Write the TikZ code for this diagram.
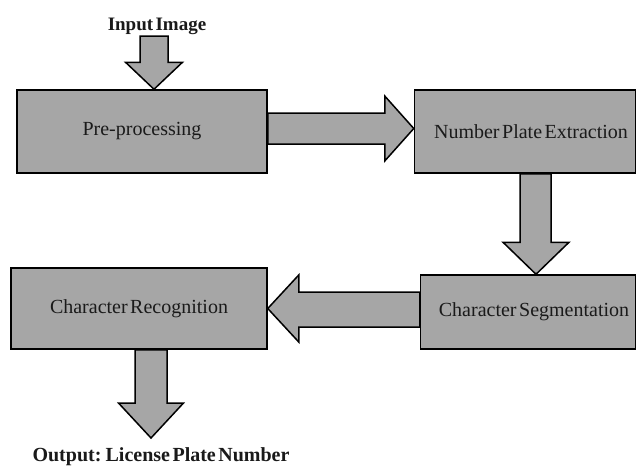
\documentclass[tikz,border=0pt]{standalone}
\usepackage{fontspec}
\setmainfont[WordSpace=0.5]{Liberation Serif}
\usetikzlibrary{calc}
\definecolor{boxgray}{HTML}{A6A6A6}
\definecolor{inkc}{HTML}{1A1A1A}
\tikzset{
  blk/.style={draw=black, line width=1.5pt, fill=boxgray, line join=miter},
  stage/.style={blk, inner sep=0pt, font=\fontsize{20}{24}\selectfont, text=inkc},
  caption/.style={inner sep=0pt, anchor=base, text=inkc, font=\bfseries\fontsize{#1}{24}\selectfont}
}
% down block arrow: #1 start (shaft top centre), #2 tip, #3 half shaft, #4 half head, #5 head length
\newcommand\blkdown[5]{\draw[blk] let \p1=#1, \p2=#2 in
  (\x1-#3pt,\y1) -- (\x1-#3pt,\y2+#5pt) -- (\x2-#4pt,\y2+#5pt) -- (\x2,\y2)
  -- (\x2+#4pt,\y2+#5pt) -- (\x1+#3pt,\y2+#5pt) -- (\x1+#3pt,\y1) -- cycle;}
% right block arrow
\newcommand\blkright[5]{\draw[blk] let \p1=#1, \p2=#2 in
  (\x1,\y1+#3pt) -- (\x2-#5pt,\y1+#3pt) -- (\x2-#5pt,\y2+#4pt) -- (\x2,\y2)
  -- (\x2-#5pt,\y2-#4pt) -- (\x2-#5pt,\y1-#3pt) -- (\x1,\y1-#3pt) -- cycle;}
% left block arrow
\newcommand\blkleft[5]{\draw[blk] let \p1=#1, \p2=#2 in
  (\x1,\y1+#3pt) -- (\x2+#5pt,\y1+#3pt) -- (\x2+#5pt,\y2+#4pt) -- (\x2,\y2)
  -- (\x2+#5pt,\y2-#4pt) -- (\x2+#5pt,\y1-#3pt) -- (\x1,\y1-#3pt) -- cycle;}
\begin{document}
\begin{tikzpicture}[x=1pt,y=-1pt]
\useasboundingbox (0,0) rectangle (637,466);
\fill[white] (0,0) rectangle (637,466);

\node[stage, minimum width=250, minimum height=83] (pre) at (142,131.5) {Pre-processing};
\node[stage, minimum width=221, minimum height=83] (npe) at (525,131.5) {\hspace*{12pt}Number Plate Extraction};
\node[stage, minimum width=215, minimum height=74] (seg) at (528,312) {\hspace*{12pt}Character Segmentation};
\node[stage, minimum width=256, minimum height=81] (rec) at (139,308.5) {Character Recognition};

\node[caption=19] (inp) at (157,30) {Input Image};
\node[caption=20] (out) at (161,461) {Output: License Plate Number};

\coordinate (inbase) at (154,36);
\coordinate (outtip) at (151,438);

\blkdown{(inbase)}{($(pre.north)+(12,0)$)}{14}{28.5}{27}
\blkright{($(pre.east)+(0,-3)$)}{($(npe.west)+(0,-3)$)}{15.5}{32.5}{29}
\blkdown{($(npe.south)+(10.5,0)$)}{($(seg.north)+(8,0)$)}{15.5}{33}{32}
\blkleft{($(seg.west)+(0,-2.5)$)}{(rec.east)}{17.5}{33.5}{31}
\blkdown{($(rec.south)+(12,0)$)}{(outtip)}{16}{32.5}{35}
\end{tikzpicture}
\end{document}
